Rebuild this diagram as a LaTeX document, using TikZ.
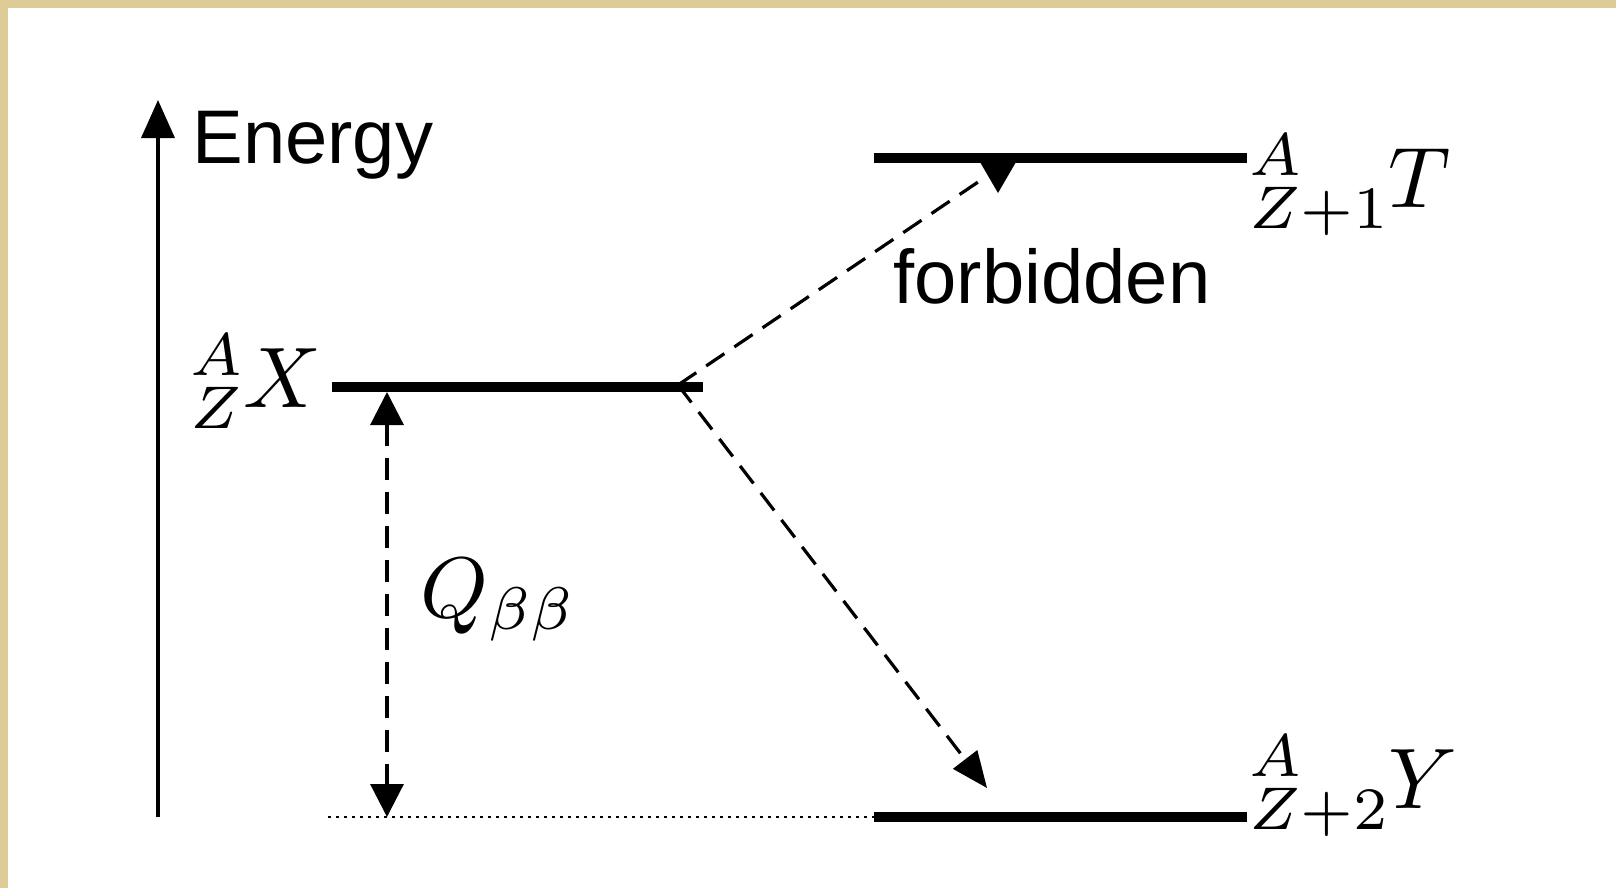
\RequirePackage{fix-cm}
\documentclass[tikz,border=0pt]{standalone}
\usepackage{fontspec}
\newfontfamily\labelsans{Liberation Sans}
\usetikzlibrary{arrows.meta}
\DeclareFontShape{OML}{cmm}{m}{it}{<-35> cmmi7 <35-> cmmi10}{}
\DeclareFontShape{OT1}{cmr}{m}{n}{<-35> cmr7 <35-> cmr10}{}
\definecolor{parchment}{RGB}{222,204,150}
\tikzset{
  level/.style={line width=5pt},
  dashconn/.style={line width=1.6pt, dash pattern=on 11pt off 6pt},
  sanslabel/.style={inner sep=0pt, anchor=base west, font=\labelsans\fontsize{38}{44}\selectfont},
  mathlabel/.style={inner sep=0pt, anchor=base west, font=\fontsize{43}{50}\selectfont}
}
\begin{document}
\begin{tikzpicture}[x=0.5pt,y=-0.5pt]
\useasboundingbox (0,0) rectangle (1616,888);
\fill[parchment] (0,0) rectangle (1616,888);
\fill[white] (8,8) rectangle (1616,888);

% coordinates
\coordinate (axb) at (158,817);
\coordinate (axt) at (158,100);
\coordinate (xl) at (332,387);
\coordinate (xr) at (703,387);
\coordinate (tl) at (874,158);
\coordinate (tr) at (1247,158);
\coordinate (yl) at (874,817);
\coordinate (yr) at (1247,817);
\coordinate (dotl) at (328,817);
\coordinate (qtop) at (387,392);
\coordinate (qbot) at (387,817);
\coordinate (start) at (678,385);
\coordinate (tend) at (984,178);
\coordinate (yend) at (987,788);

% energy axis
\draw[line width=1.8pt, -{Triangle[length=19pt,width=16.5pt]}] (axb) -- (axt);
\node[sanslabel] (energy) at (192,163) {Energy};

% levels
\draw[level] (xl) -- (xr);
\draw[level] (tl) -- (tr);
\draw[level] (yl) -- (yr);
\draw[line width=1pt, dash pattern=on 1.5pt off 2.5pt] (dotl) -- (yl);

% labels
\node[mathlabel] (xlab) at (190,407) {${}^{A}_{Z}X$};
\node[mathlabel] (tlab) at (1249,207) {${}^{A}_{Z+1}T$};
\node[mathlabel] (ylab) at (1249,808) {${}^{A}_{Z+2}Y$};
\node[mathlabel] (qlab) at (420,617) {$Q_{\beta\beta}$};
\node[sanslabel] (forb) at (893,303) {forbidden};

% Q arrow
\draw[dashconn, {Triangle[length=16.5pt,width=16.5pt]}-{Triangle[length=16.5pt,width=16.5pt]}] (qtop) -- (qbot);

% transitions
\draw[dashconn] (start) -- (tend);
\fill (980,162) -- (1016,162) -- (998,193) -- cycle;
\draw[dashconn, -{Triangle[length=18pt,width=15pt]}] (start) -- (yend);
\end{tikzpicture}
\end{document}
